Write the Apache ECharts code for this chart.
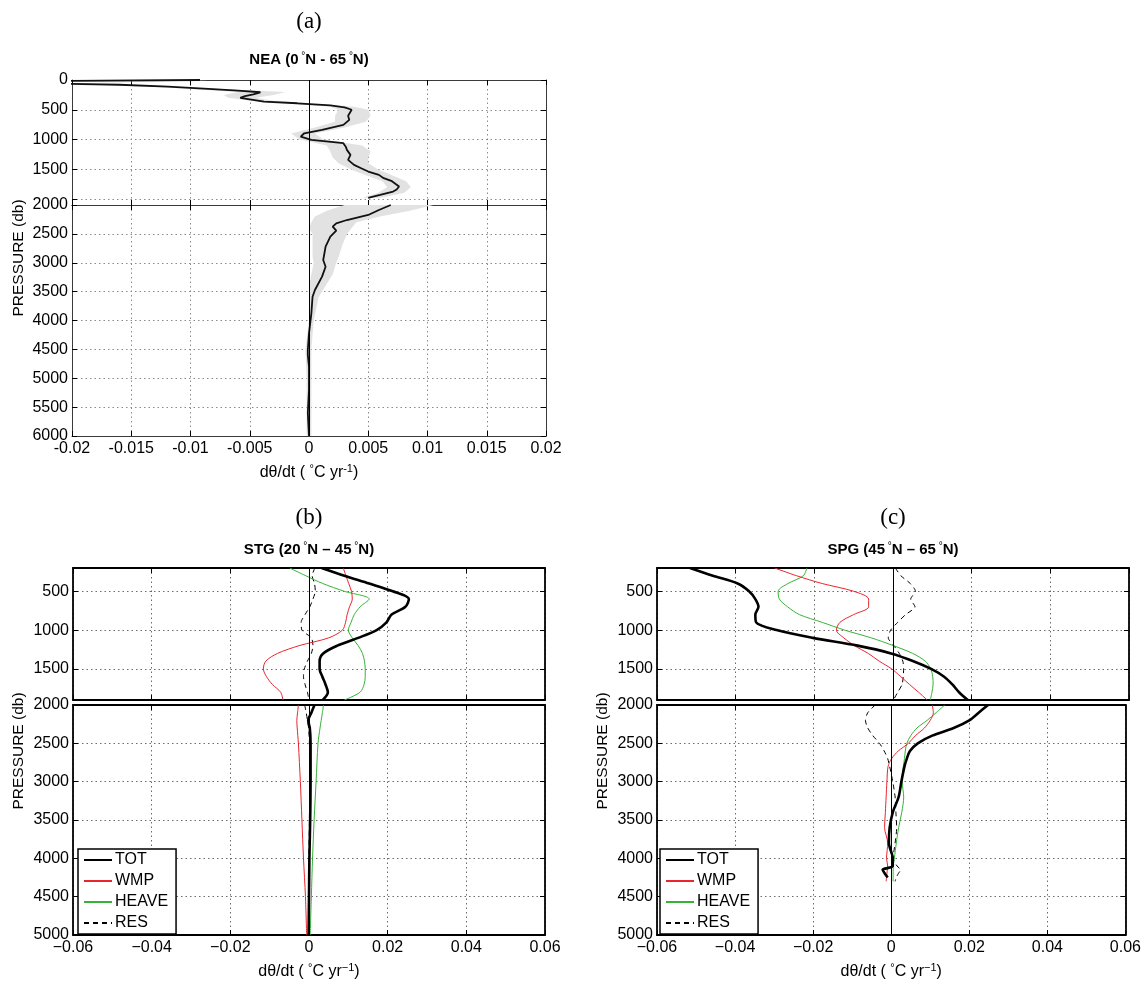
<!DOCTYPE html>
<html>
<head>
<meta charset="utf-8">
<title>Warming trend profiles</title>
<script src="https://cdn.jsdelivr.net/npm/echarts@6/dist/echarts.min.js"></script>
<style>
  html, body { margin: 0; padding: 0; background: #fff; }
  #main { width: 1144px; height: 982px; }
</style>
</head>
<body>
<div id="main"></div>
<script>
// ---------- (a) NEA : mean trend + grey spread ----------
var neaUpDepth = [0, 15, 60, 80, 110, 150, 180, 206, 240, 270, 300, 330, 364, 391, 425, 460, 500, 520, 600, 670, 755, 839, 895, 951, 1007, 1062, 1120, 1174, 1258, 1342, 1426, 1482, 1538, 1594, 1650, 1700, 1760, 1790, 1840, 1874, 1930, 1980];
var neaUpRate = [-0.0092, -0.0215, -0.0215, -0.016, -0.0119, -0.0085, -0.0060, -0.0041, -0.0047, -0.0054, -0.0058, -0.0057, -0.0038, -0.0010, 0.0018, 0.0030, 0.0036, 0.0037, 0.0033, 0.0034, 0.0029, 0.0011, -0.0004, -0.0007, 0.0002, 0.0029, 0.0031, 0.0032, 0.0035, 0.0033, 0.0038, 0.0044, 0.0050, 0.0059, 0.0063, 0.0070, 0.0074, 0.0076, 0.0074, 0.0071, 0.0060, 0.0050];
var neaLowDepth = [2000, 2087, 2173, 2260, 2318, 2375, 2445, 2549, 2722, 2952, 3068, 3241, 3472, 3588, 3875, 4221, 4510, 4597, 4800, 5200, 5600, 6000];
var neaLowRate = [0.0069, 0.0059, 0.0050, 0.0032, 0.0023, 0.0020, 0.0023, 0.0018, 0.0014, 0.0012, 0.0014, 0.0011, 0.0005, 0.0003, 0.0002, 0.0000, -0.0001, -0.0001, 0.0000, 0.0000, -0.0001, 0.0000];

var neaBandUpDepth = [0, 60, 120, 200, 250, 300, 350, 400, 450, 500, 600, 700, 800, 900, 1000, 1100, 1200, 1300, 1400, 1500, 1600, 1700, 1800, 1900, 1980];
var neaBandUpLo = [-0.0100, -0.0200, -0.0125, -0.0060, -0.0072, -0.0068, -0.0050, -0.0015, 0.0018, 0.0025, 0.0022, 0.0022, 0.0005, -0.0015, -0.0008, 0.0015, 0.0018, 0.0020, 0.0025, 0.0035, 0.0048, 0.0062, 0.0066, 0.0058, 0.0045];
var neaBandUpHi = [-0.0085, -0.0190, -0.0105, -0.0020, -0.0030, -0.0045, -0.0030, 0.0005, 0.0038, 0.0050, 0.0052, 0.0048, 0.0030, 0.0005, 0.0012, 0.0045, 0.0052, 0.0050, 0.0050, 0.0058, 0.0070, 0.0082, 0.0086, 0.0080, 0.0060];
var neaBandLowDepth = [2000, 2100, 2200, 2300, 2400, 2500, 2700, 2900, 3000, 3200, 3400, 3600, 4000, 4500, 5000, 6000];
var neaBandLowLo = [0.0030, 0.0015, 0.0005, 0.0002, 0.0000, 0.0003, 0.0003, 0.0003, 0.0004, 0.0002, 0.0000, 0.0000, 0.0000, -0.0003, -0.0002, -0.0002];
var neaBandLowHi = [0.0105, 0.0085, 0.0060, 0.0040, 0.0036, 0.0032, 0.0028, 0.0025, 0.0023, 0.0020, 0.0014, 0.0008, 0.0004, 0.0002, 0.0002, 0.0002];

// ---------- (b) STG ----------
var stgUpDepth = [200, 300, 400, 500, 600, 700, 800, 900, 1000, 1100, 1200, 1300, 1400, 1500, 1600, 1700, 1800, 1900];
var stgUpTot = [0.0032, 0.0090, 0.0153, 0.0213, 0.0254, 0.0245, 0.0210, 0.0197, 0.0172, 0.0125, 0.0072, 0.0036, 0.0027, 0.0027, 0.0034, 0.0042, 0.0048, 0.0035];
var stgUpWmp = [0.0087, 0.0094, 0.0101, 0.0108, 0.0110, 0.0103, 0.0097, 0.0093, 0.0085, 0.0050, -0.0025, -0.0080, -0.0110, -0.0116, -0.0108, -0.0093, -0.0072, -0.0066];
var stgUpHeave = [-0.0049, -0.0008, 0.0035, 0.0090, 0.0153, 0.0130, 0.0115, 0.0107, 0.0100, 0.0110, 0.0125, 0.0136, 0.0141, 0.0143, 0.0143, 0.0140, 0.0130, 0.0090];
var stgUpRes = [0.0015, 0.0008, 0.0014, 0.0016, 0.0010, 0.0002, -0.0010, -0.0020, -0.0018, 0.0006, 0.0010, 0.0006, -0.0004, -0.0012, -0.0014, -0.0010, -0.0004, 0.0000];

var stgLowDepth = [2000, 2100, 2200, 2300, 2500, 3000, 3500, 4000, 4500, 5000];
var stgLowTot = [0.0014, 0.0006, -0.0002, 0.0002, 0.0004, 0.0004, 0.0003, 0.0001, 0.0000, -0.0001];
var stgLowWmp = [-0.0027, -0.0029, -0.0031, -0.0030, -0.0027, -0.0022, -0.0018, -0.0014, -0.0009, -0.0006];
var stgLowHeave = [0.0037, 0.0034, 0.0031, 0.0028, 0.0023, 0.0018, 0.0013, 0.0009, 0.0006, 0.0003];
var stgLowRes = [-0.0011, -0.0007, -0.0004, -0.0001, 0.0001, 0.0002, 0.0001, 0.0000, 0.0000, 0.0000];

// ---------- (c) SPG ----------
var spgUpDepth = stgUpDepth;
var spgUpTot = [-0.0516, -0.0458, -0.0395, -0.0366, -0.0350, -0.0342, -0.0350, -0.0348, -0.0296, -0.0204, -0.0090, -0.0005, 0.0052, 0.0097, 0.0130, 0.0151, 0.0168, 0.0190];
var spgUpWmp = [-0.0301, -0.0245, -0.0180, -0.0100, -0.0062, -0.0062, -0.0100, -0.0135, -0.0144, -0.0125, -0.0098, -0.0063, -0.0035, -0.0003, 0.0020, 0.0042, 0.0065, 0.0087];
var spgUpHeave = [-0.0219, -0.0228, -0.0267, -0.0292, -0.0289, -0.0268, -0.0238, -0.0180, -0.0123, -0.0055, 0.0001, 0.0050, 0.0082, 0.0096, 0.0101, 0.0102, 0.0099, 0.0095];
var spgUpRes = [0.0006, 0.0020, 0.0044, 0.0057, 0.0045, 0.0056, 0.0032, 0.0012, -0.0006, -0.0012, 0.0002, 0.0016, 0.0025, 0.0027, 0.0026, 0.0023, 0.0012, 0.0001];

var spgLowDepth = [2000, 2100, 2200, 2300, 2400, 2500, 2600, 2700, 2800, 3000, 3200, 3400, 3600, 3800, 4000, 4100, 4150, 4200, 4250, 4300];
var spgLowTot = [0.0248, 0.0224, 0.0200, 0.0160, 0.0105, 0.0068, 0.0048, 0.0040, 0.0034, 0.0026, 0.0019, 0.0004, -0.0004, -0.0006, 0.0004, 0.0004, -0.0022, -0.0016, -0.0009, null];
var spgLowWmp = [0.0105, 0.0108, 0.0100, 0.0085, 0.0062, 0.0044, 0.0018, 0.0001, -0.0008, -0.0011, -0.0013, -0.0015, -0.0017, -0.0009, -0.0012, -0.0009, -0.0010, -0.0011, -0.0012, -0.0013];
var spgLowHeave = [0.0137, 0.0115, 0.0092, 0.0066, 0.0050, 0.0040, 0.0036, 0.0034, 0.0031, 0.0028, 0.0032, 0.0027, 0.0019, 0.0013, 0.0008, 0.0005, 0.0005, 0.0005, 0.0005, 0.0005];
var spgLowRes = [-0.0041, -0.0060, -0.0066, -0.0060, -0.0047, -0.0030, -0.0018, -0.0009, -0.0004, 0.0004, 0.0010, 0.0012, 0.0014, 0.0010, 0.0005, 0.0015, 0.0024, 0.0018, 0.0013, 0.0010];

var legendNames = ['TOT', 'WMP', 'HEAVE', 'RES'];

var FONT = 'Liberation Sans, Arial, Helvetica, sans-serif';
var RED = '#e8262e', GREEN = '#36b336';

var chart = echarts.init(document.getElementById('main'));

// grids: 0 a-upper, 1 a-lower, 2 b-upper, 3 b-lower, 4 c-upper, 5 c-lower
var grids = [
  {left: 72, top: 80, width: 474, height: 125},
  {left: 72, top: 205, width: 474, height: 231},
  {left: 73, top: 568, width: 472, height: 132},
  {left: 73, top: 705, width: 472, height: 230},
  {left: 657, top: 568, width: 472, height: 132},
  {left: 657, top: 705, width: 472, height: 230}
];

function fmtA(v) { return Math.abs(v) < 1e-9 ? '0' : String(+v.toFixed(3)); }
function fmtBC(v) {
  if (Math.abs(v) < 1e-9) return '0';
  var s = String(+Math.abs(v).toFixed(2));
  return v < 0 ? '\u2212' + s : s;
}

var nameRich = {
  n: {fontSize: 16, fontFamily: FONT, color: '#000', lineHeight: 19},
  s: {fontSize: 11, fontFamily: FONT, color: '#000', verticalAlign: 'top', lineHeight: 11}
};

function gridLine(isA) {
  return {show: true, lineStyle: {color: isA ? '#8a8a8a' : '#6a6a6a', type: [1.5, 3], width: 1}};
}
function frame(isA) {
  return {show: true, onZero: false, lineStyle: {color: isA ? '#3a3a3a' : '#000', width: isA ? 1 : 1.8}};
}

var xAxes = [], yAxes = [];
var xCfg = [
  {min: -0.02, max: 0.02, interval: 0.005, fmt: fmtA, labels: false},
  {min: -0.02, max: 0.02, interval: 0.005, fmt: fmtA, labels: true, name: '{n|dθ/dt ( }{s|°}{n|C yr}{s|-1}{n|)}'},
  {min: -0.06, max: 0.06, interval: 0.02, fmt: fmtBC, labels: false},
  {min: -0.06, max: 0.06, interval: 0.02, fmt: fmtBC, labels: true, name: '{n|dθ/dt ( }{s|°}{n|C yr}{s|\u22121}{n|)}'},
  {min: -0.06, max: 0.06, interval: 0.02, fmt: fmtBC, labels: false},
  {min: -0.06, max: 0.06, interval: 0.02, fmt: fmtBC, labels: true, name: '{n|dθ/dt ( }{s|°}{n|C yr}{s|\u22121}{n|)}'}
];
var yCfg = [
  {min: 0, max: 2100, fmt: function (v) { return v >= 2000 ? '' : String(v); }},
  {min: 2000, max: 6000, fmt: function (v) { return String(v); }},
  {min: 200, max: 1900, fmt: function (v) { return v % 500 === 0 ? String(v) : ''; }},
  {min: 2000, max: 5000, fmt: function (v) { return String(v); }},
  {min: 200, max: 1900, fmt: function (v) { return v % 500 === 0 ? String(v) : ''; }},
  {min: 2000, max: 5000, fmt: function (v) { return String(v); }}
];

function buildAxes(pass) {
  for (var g = 0; g < 6; g++) {
    var xc = xCfg[g], yc = yCfg[g];
    var main = pass === 0;
    xAxes.push({
      type: 'value', gridIndex: g, position: main ? 'bottom' : 'top',
      min: xc.min, max: xc.max, interval: xc.interval,
      axisLine: frame(g < 2),
      axisTick: {show: true, inside: true, length: 5, lineStyle: {color: '#000'}},
      axisLabel: {show: main && xc.labels, formatter: xc.fmt, fontSize: 16, fontFamily: FONT, color: '#000', margin: 5},
      splitLine: main ? gridLine(g < 2) : {show: false},
      name: main && xc.name ? xc.name : '',
      nameLocation: 'middle', nameGap: 27,
      nameTextStyle: {rich: nameRich}
    });
    yAxes.push({
      type: 'value', gridIndex: g, position: main ? 'left' : 'right', inverse: true,
      min: yc.min, max: yc.max, minInterval: 500, maxInterval: 500,
      axisLine: frame(g < 2),
      axisTick: {show: true, inside: true, length: 5, lineStyle: {color: '#000'}},
      axisLabel: {show: main, formatter: yc.fmt, fontSize: 16, fontFamily: FONT, color: '#000', margin: 4},
      splitLine: main ? gridLine(g < 2) : {show: false}
    });
  }
}
buildAxes(0);
buildAxes(1);

function pairs(vals, depth) {
  var out = [];
  for (var i = 0; i < depth.length; i++) {
    if (vals[i] !== null) out.push([vals[i], depth[i]]);
  }
  return out;
}

var zeroLine = {
  silent: true, symbol: ['none', 'none'], animation: false,
  label: {show: false},
  lineStyle: {color: '#000', type: 'solid', width: 1},
  data: [{xAxis: 0}]
};

function profile(name, g, depth, vals, color, width, dashed, withZero, smooth) {
  return {
    name: name, type: 'line', xAxisIndex: g, yAxisIndex: g,
    data: pairs(vals, depth), showSymbol: false, symbol: 'none',
    smooth: smooth || false,
    lineStyle: {color: color, width: width, type: dashed ? [5, 4] : 'solid'},
    itemStyle: {color: color},
    z: name === 'TOT' ? 5 : 3,
    markLine: withZero ? zeroLine : undefined
  };
}

function band(g, depth, lo, hi) {
  return {
    type: 'custom', xAxisIndex: g, yAxisIndex: g, silent: true, z: 1, clip: true,
    data: [[lo[0], depth[0]]],
    renderItem: function (params, api) {
      var pts = [];
      for (var i = 0; i < depth.length; i++) pts.push(api.coord([lo[i], depth[i]]));
      for (var j = depth.length - 1; j >= 0; j--) pts.push(api.coord([hi[j], depth[j]]));
      return {type: 'polygon', shape: {points: pts}, style: {fill: '#e2e2e2'}};
    }
  };
}

var series = [
  band(0, neaBandUpDepth, neaBandUpLo, neaBandUpHi),
  band(1, neaBandLowDepth, neaBandLowLo, neaBandLowHi),
  profile('NEA', 0, neaUpDepth, neaUpRate, '#111', 1.8, false, true),
  profile('NEA', 1, neaLowDepth, neaLowRate, '#111', 1.8, false, true)
];

var panels = [
  {g: 2, d: stgUpDepth, s: [stgUpTot, stgUpWmp, stgUpHeave, stgUpRes]},
  {g: 3, d: stgLowDepth, s: [stgLowTot, stgLowWmp, stgLowHeave, stgLowRes]},
  {g: 4, d: spgUpDepth, s: [spgUpTot, spgUpWmp, spgUpHeave, spgUpRes]},
  {g: 5, d: spgLowDepth, s: [spgLowTot, spgLowWmp, spgLowHeave, spgLowRes]}
];
panels.forEach(function (p) {
  series.push(profile('RES', p.g, p.d, p.s[3], '#000', 1, true, true, 0.25));
  series.push(profile('HEAVE', p.g, p.d, p.s[2], GREEN, 1, false, false, 0.3));
  series.push(profile('WMP', p.g, p.d, p.s[1], RED, 1, false, false, 0.3));
  series.push(profile('TOT', p.g, p.d, p.s[0], '#000', 2.6, false, false, 0.3));
});

function legendAt(left) {
  return {
    data: legendNames, orient: 'vertical', left: left, top: 849,
    itemWidth: 28, itemHeight: 14, itemGap: 5,
    padding: [3, 8, 3, 5],
    borderColor: '#000', borderWidth: 1.5, backgroundColor: '#fff',
    itemStyle: {opacity: 0},
    textStyle: {fontSize: 16, fontFamily: FONT, color: '#000', padding: [0, 0, 0, -2]},
    selectedMode: false, z: 10
  };
}

var titleRich = {
  b: {fontSize: 15, fontWeight: 'bold', fontFamily: FONT, color: '#000', lineHeight: 18},
  d: {fontSize: 10, fontFamily: FONT, color: '#000', verticalAlign: 'top', lineHeight: 9}
};

function txt(x, y, text, style, rotation) {
  return {
    type: 'text', x: x, y: y, rotation: rotation || 0, silent: true,
    style: Object.assign({text: text, align: 'center', verticalAlign: 'middle', fill: '#000'}, style)
  };
}

var serif = {fontSize: 23, fontFamily: 'Liberation Serif, Times New Roman, serif'};
var yName = {fontSize: 15.5, fontFamily: FONT};

var graphics = [
  txt(309, 22, '(a)', serif),
  txt(309, 518, '(b)', serif),
  txt(893, 518, '(c)', serif),
  txt(309, 60, '{b|NEA (0}{d| °}{b|N - 65}{d| °}{b|N)}', {rich: titleRich}),
  txt(309, 550, '{b|STG (20}{d| °}{b|N \u2013 45}{d| °}{b|N)}', {rich: titleRich}),
  txt(893, 550, '{b|SPG (45}{d| °}{b|N \u2013 65}{d| °}{b|N)}', {rich: titleRich}),
  txt(19, 258, 'PRESSURE (db)', yName, Math.PI / 2),
  txt(19, 751, 'PRESSURE (db)', yName, Math.PI / 2),
  txt(603, 751, 'PRESSURE (db)', yName, Math.PI / 2)
];

chart.setOption({
  animation: false,
  backgroundColor: '#fff',
  grid: grids,
  xAxis: xAxes,
  yAxis: yAxes,
  legend: [legendAt(78), legendAt(660)],
  graphic: graphics,
  series: series
});
</script>
</body>
</html>
